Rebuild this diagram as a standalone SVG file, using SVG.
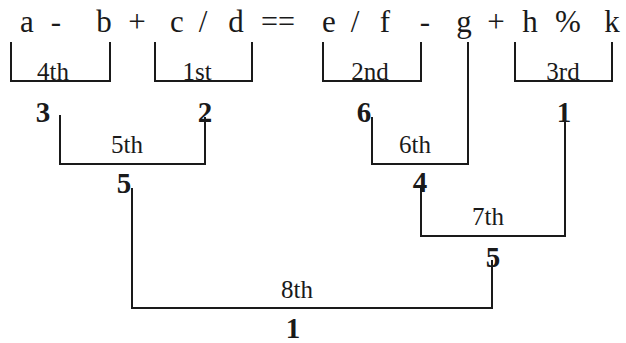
<svg xmlns="http://www.w3.org/2000/svg" width="626" height="343" viewBox="0 0 626 343">
<style>
.t{font-family:"Liberation Serif","Times New Roman",serif;font-size:31px;fill:#1a1a1a;text-anchor:middle}
.l{font-family:"Liberation Serif","Times New Roman",serif;font-size:25px;fill:#1a1a1a;text-anchor:middle}
.n{font-family:"Liberation Serif","Times New Roman",serif;font-size:29px;font-weight:bold;fill:#1a1a1a;text-anchor:middle}
.c{fill:none;stroke:#1a1a1a;stroke-width:2;stroke-linejoin:miter}
</style>
<rect width="626" height="343" fill="#fff"/>
<g id="expression">
<text class="t" x="27" y="32">a</text>
<text class="t" x="56" y="32">-</text>
<text class="t" x="104" y="32">b</text>
<text class="t" x="137" y="32">+</text>
<text class="t" x="177" y="32">c</text>
<text class="t" x="203" y="32">/</text>
<text class="t" x="236" y="32">d</text>
<text class="t" x="278" y="32" textLength="34" lengthAdjust="spacingAndGlyphs">==</text>
<text class="t" x="329" y="32">e</text>
<text class="t" x="355" y="32">/</text>
<text class="t" x="385" y="32">f</text>
<text class="t" x="425" y="32">-</text>
<text class="t" x="464" y="32">g</text>
<text class="t" x="496" y="32">+</text>
<text class="t" x="530" y="32">h</text>
<text class="t" x="568" y="32">%</text>
<text class="t" x="612" y="32">k</text>
</g>
<g id="connectors">
<path class="c" d="M11,42 V81 H110 V42"/>
<path class="c" d="M155,42 V81 H252 V42"/>
<path class="c" d="M323,42 V81 H421 V42"/>
<path class="c" d="M515,42 V81 H612 V42"/>
<path class="c" d="M60,115 V164 H205 V117"/>
<path class="c" d="M372,117 V164 H468 V42"/>
<path class="c" d="M421,185 V236 H565 V115"/>
<path class="c" d="M132,188 V308 H492 V260"/>
</g>
<g id="op-4th"><text class="l" x="53" y="80">4th</text></g>
<g id="op-1st"><text class="l" x="197" y="80">1st</text></g>
<g id="op-2nd"><text class="l" x="370" y="80">2nd</text></g>
<g id="op-3rd"><text class="l" x="563" y="80">3rd</text></g>
<g id="op-5th"><text class="l" x="127" y="153">5th</text></g>
<g id="op-6th"><text class="l" x="415" y="153">6th</text></g>
<g id="op-7th"><text class="l" x="488" y="225">7th</text></g>
<g id="op-8th"><text class="l" x="297" y="298">8th</text></g>
<g id="prec-3"><text class="n" x="43" y="122">3</text></g>
<g id="prec-2"><text class="n" x="205" y="122">2</text></g>
<g id="prec-6"><text class="n" x="364" y="122">6</text></g>
<g id="prec-1a"><text class="n" x="564" y="122">1</text></g>
<g id="prec-5a"><text class="n" x="124" y="193">5</text></g>
<g id="prec-4"><text class="n" x="420" y="192">4</text></g>
<g id="prec-5b"><text class="n" x="493" y="267">5</text></g>
<g id="prec-1b"><text class="n" x="293" y="338">1</text></g>
</svg>
